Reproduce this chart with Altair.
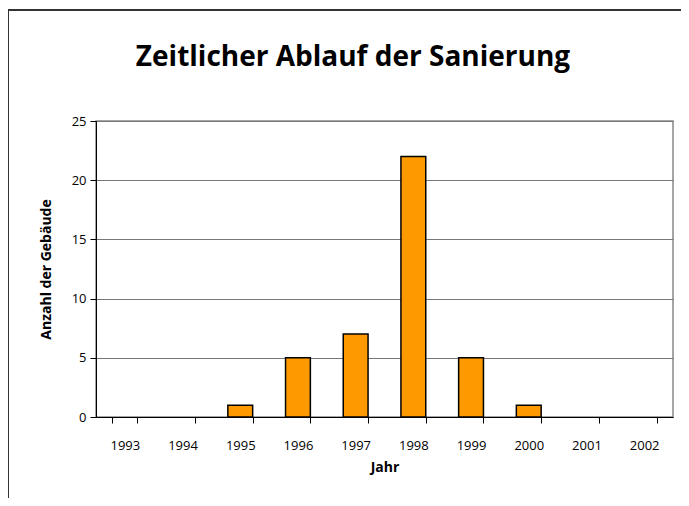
import altair as alt
import pandas as pd

years = ["1993", "1994", "1995", "1996", "1997", "1998", "1999", "2000", "2001", "2002"]
counts = [0, 0, 1, 5, 7, 22, 5, 1, 0, 0]
title_text = ["Zeitlicher Ablauf der Sanierung"]

df = pd.DataFrame({"Jahr": years, "Anzahl": counts})
tdf = pd.DataFrame({"t": title_text})

FONT = "Open Sans"

bars = alt.Chart(df).transform_filter(
    alt.datum.Anzahl > 0
).mark_bar(
    color="#FF9900", stroke="#000000", strokeWidth=1.5
).encode(
    x=alt.X("Jahr:N", sort=years,
            scale=alt.Scale(domain=years, paddingInner=0.57, paddingOuter=0.285),
            axis=alt.Axis(title="Jahr", labelAngle=0, tickBand="extent",
                          domainColor="#000000", tickColor="#000000",
                          tickSize=6, labelPadding=16, titlePadding=8)),
    y=alt.Y("Anzahl:Q", scale=alt.Scale(domain=[0, 25]),
            axis=alt.Axis(title="Anzahl der Gebäude", values=[0, 5, 10, 15, 20, 25],
                          grid=True, gridColor="#777777", gridWidth=1,
                          domainColor="#000000", tickColor="#000000",
                          tickSize=6, labelPadding=4, titlePadding=18)),
)

frame_top = alt.Chart(tdf).mark_rule(
    stroke="#333333", strokeWidth=2, clip=False
).encode(
    x=alt.value(-88), x2=alt.value(700), y=alt.value(-111),
)

frame_left = alt.Chart(tdf).mark_rule(
    stroke="#333333", strokeWidth=2, clip=False
).encode(
    x=alt.value(-88), y=alt.value(-112), y2=alt.value(500),
)

title = alt.Chart(tdf).mark_text(
    font=FONT, fontSize=28, fontWeight="bold", color="#000000",
    align="center", baseline="middle",
).encode(
    text="t:N", x=alt.value(257), y=alt.value(-63),
)

chart = alt.layer(bars, frame_top, frame_left, title).properties(
    width=577, height=296,
    autosize=alt.AutoSizeParams(type="none"),
    padding={"left": 88, "top": 113, "right": 8, "bottom": 81},
    background="white",
).configure_view(
    stroke="#888888", strokeWidth=1.5
).configure_axis(
    labelFont=FONT, labelFontSize=13, labelColor="#000000",
    titleFont=FONT, titleFontSize=14, titleFontWeight="bold", titleColor="#000000",
)

chart.save("out.html", embed_options={"renderer": "svg", "actions": False})
